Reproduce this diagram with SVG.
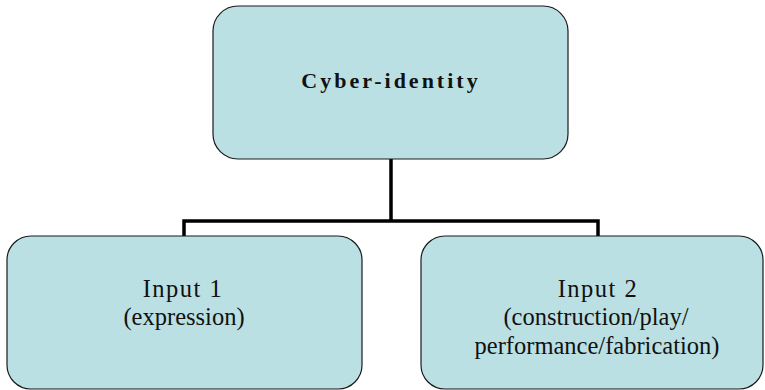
<svg xmlns="http://www.w3.org/2000/svg" width="765" height="390" viewBox="0 0 765 390">
  <style>
    .box { fill: #BBE0E3; stroke: #1a1a1a; stroke-width: 1.2; }
    .wire { fill: none; stroke: #000; stroke-width: 3.5; stroke-linejoin: miter; }
    .label { font-family: "Liberation Serif", "Times New Roman", serif; font-size: 24.5px; fill: #111; text-anchor: middle; }
    .title { font-size: 22px; font-weight: bold; letter-spacing: 3px; }
    .spaced { letter-spacing: 1.5px; }
  </style>
  <rect width="765" height="390" fill="#fff"/>

  <!-- tree connectors: trunk from the top box, then a bar splitting to both children -->
  <g id="connectors">
    <path class="wire" d="M391 159 V221"/>
    <path class="wire" d="M184 236 V221 H598 V236"/>
  </g>

  <g id="cyber-identity">
    <rect class="box" x="213" y="6" width="355" height="153" rx="25" ry="25"/>
    <text class="label title" x="391" y="88">Cyber-identity</text>
  </g>

  <g id="input-1">
    <rect class="box" x="7" y="236" width="355" height="153" rx="24" ry="24"/>
    <text class="label spaced" x="183" y="297">Input 1</text>
    <text class="label" x="184" y="325">(expression)</text>
  </g>

  <g id="input-2">
    <rect class="box" x="421" y="236" width="342" height="153" rx="24" ry="24"/>
    <text class="label spaced" x="598" y="297">Input 2</text>
    <text class="label" x="596" y="325">(construction/play/</text>
    <text class="label" x="597" y="353.5">performance/fabrication)</text>
  </g>
</svg>
